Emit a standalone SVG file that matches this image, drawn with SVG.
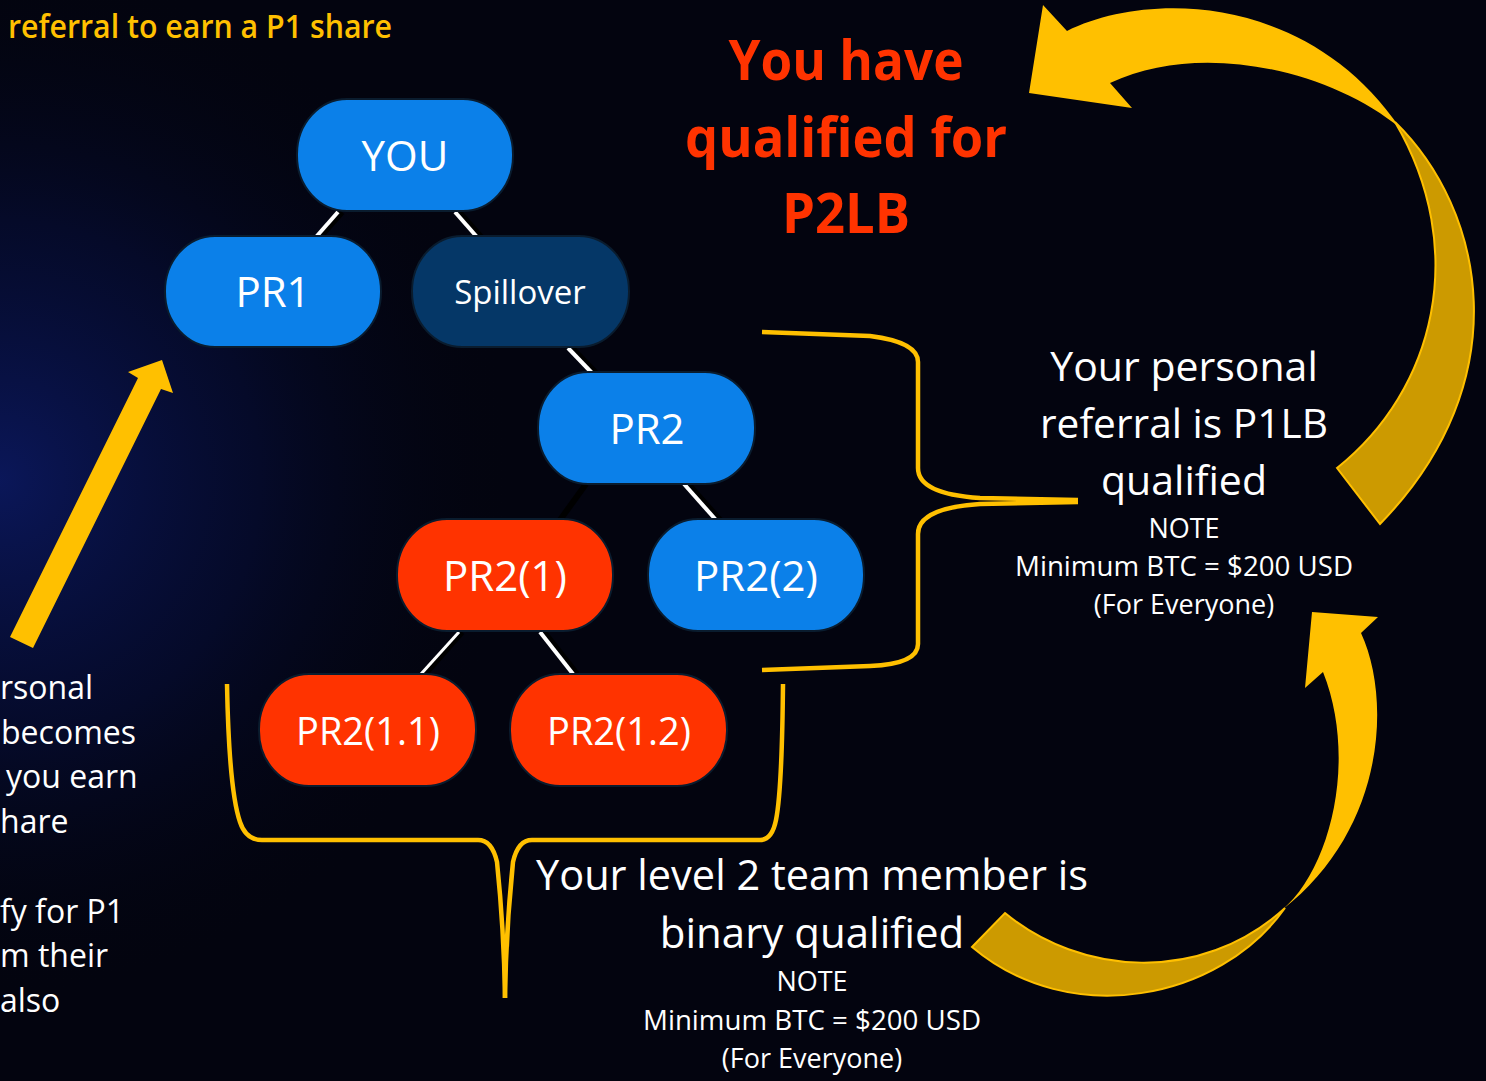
<svg xmlns="http://www.w3.org/2000/svg" width="1486" height="1081" viewBox="0 0 1486 1081">
<defs>
<radialGradient id="glow" cx="0" cy="480" r="520" gradientUnits="userSpaceOnUse">
<stop offset="0" stop-color="#0c1a66" stop-opacity="0.85"/>
<stop offset="0.5" stop-color="#081350" stop-opacity="0.4"/>
<stop offset="1" stop-color="#03040f" stop-opacity="0"/>
</radialGradient>
<style>
.node-blue{fill:#0b80e9;stroke:#0a1c2e;stroke-width:2}
.node-dark{fill:#053767;stroke:#0a1c2e;stroke-width:2}
.node-red{fill:#ff3300;stroke:#0a1c2e;stroke-width:2}
.nt{font-family:"Open Sans","Noto Sans",sans-serif;fill:#ffffff;text-anchor:middle}
.wt{font-family:"Open Sans","Noto Sans",sans-serif;fill:#ffffff}
.ct{font-family:"Open Sans","Noto Sans",sans-serif;fill:#ffffff;text-anchor:middle}
.shadow{stroke:#000000;stroke-width:6;stroke-linecap:butt}
.edge{stroke:#ffffff;stroke-width:4;stroke-linecap:butt}
.brace{fill:none;stroke:#ffc000;stroke-width:4.5;stroke-linejoin:round}
.gold{fill:#ffc000}
.goldd{fill:#cc9a00;stroke:#ffc000;stroke-width:2}
</style>
</defs>
<rect width="1486" height="1081" fill="#03040f"/>
<rect width="1486" height="1081" fill="url(#glow)"/>

<text x="8" y="38" font-family="'Open Sans','Noto Sans',sans-serif" font-weight="600" font-size="32" fill="#ffc000" textLength="384" lengthAdjust="spacingAndGlyphs">referral to earn a P1 share</text>

<g id="left-text" class="wt" font-size="32">
<text x="0" y="699">rsonal</text>
<text x="1" y="744">becomes</text>
<text x="6" y="788">you earn</text>
<text x="0" y="833">hare</text>
<text x="0" y="923">fy for P1</text>
<text x="0" y="967">m their</text>
<text x="0" y="1012">also</text>
</g>

<g id="connectors">
<line class="shadow" x1="342" y1="212" x2="320" y2="237"/>
<line class="edge" x1="338" y1="212" x2="316" y2="237"/>
<line class="shadow" x1="459" y1="212" x2="481" y2="237"/>
<line class="edge" x1="455" y1="212" x2="477" y2="237"/>
<line class="shadow" x1="572" y1="348" x2="596" y2="373"/>
<line class="edge" x1="568" y1="348" x2="592" y2="373"/>
<line class="shadow" x1="586" y1="484" x2="560" y2="520"/>
<line class="shadow" x1="688" y1="484" x2="720" y2="520"/>
<line class="edge" x1="684" y1="484" x2="716" y2="520"/>
<line class="shadow" x1="462" y1="632" x2="425" y2="674"/>
<line class="edge" x1="459" y1="632" x2="421" y2="674" style="stroke-width:3"/>
<line class="shadow" x1="544" y1="632" x2="577" y2="674"/>
<line class="edge" x1="540" y1="632" x2="573" y2="674"/>
</g>

<g id="node-you"><rect class="node-blue" x="297" y="99" width="216" height="112" rx="50" ry="55"/><text class="nt" x="405" y="171" font-size="42">YOU</text></g>
<g id="node-pr1"><rect class="node-blue" x="165" y="236" width="216" height="111" rx="50" ry="55"/><text class="nt" x="273" y="307" font-size="42">PR1</text></g>
<g id="node-spillover"><rect class="node-dark" x="412" y="236" width="217" height="111" rx="50" ry="55"/><text class="nt" x="520" y="304" font-size="33">Spillover</text></g>
<g id="node-pr2"><rect class="node-blue" x="538" y="372" width="217" height="112" rx="50" ry="55"/><text class="nt" x="647" y="444" font-size="42">PR2</text></g>
<g id="node-pr2-1"><rect class="node-red" x="397" y="519" width="216" height="112" rx="50" ry="55"/><text class="nt" x="505" y="591" font-size="42">PR2(1)</text></g>
<g id="node-pr2-2"><rect class="node-blue" x="648" y="519" width="216" height="112" rx="50" ry="55"/><text class="nt" x="756" y="591" font-size="42">PR2(2)</text></g>
<g id="node-pr2-1-1"><rect class="node-red" x="259" y="674" width="217" height="112" rx="50" ry="55"/><text class="nt" x="368" y="745" font-size="38">PR2(1.1)</text></g>
<g id="node-pr2-1-2"><rect class="node-red" x="510" y="674" width="217" height="112" rx="50" ry="55"/><text class="nt" x="619" y="745" font-size="38">PR2(1.2)</text></g>

<g id="braces">
<path class="brace" d="M762,332 L870,336 Q918,342 918,362 L918,468 Q918,494 980,498 L1078,500"/>
<path class="brace" d="M1078,502 L980,504 Q918,508 918,534 L918,644 Q918,664 870,666 L762,670"/>
<path class="brace" d="M227,684 Q229,790 240,822 Q246,840 262,840 L478,840 Q492,840 497,862 Q504,930 505,998"/>
<path class="brace" d="M505,998 Q506,930 513,862 Q518,840 532,840 L760,840 Q772,840 776,820 Q782,790 783,684"/>
</g>

<g id="arrows">
<polygon class="gold" points="10,637 138,378 128,372 162,360 173,393 161,389 33,648"/>
<path class="goldd" d="M1395,122 C1485,210 1520,380 1380,524 L1337,468 C1435,390 1470,250 1395,122 Z"/>
<path class="gold" d="M1029,93 L1043,5 L1067,31 C1150,-10 1310,-5 1400,128 C1330,70 1200,40 1110,83 L1132,108 Z"/>
<path class="goldd" d="M1005,913 C1080,975 1200,985 1285,908 C1220,1000 1070,1030 972,947 Z"/>
<path class="gold" d="M1312,612 L1378,617 L1361,633 C1392,700 1385,830 1282,910 C1330,870 1358,760 1323,672 L1305,688 Z"/>
</g>

<g id="title" font-family="'Open Sans','Noto Sans',sans-serif" font-weight="bold" font-size="56" fill="#ff3300" text-anchor="middle">
<text x="846" y="80" textLength="235" lengthAdjust="spacingAndGlyphs">You have</text>
<text x="846" y="157" textLength="322" lengthAdjust="spacingAndGlyphs">qualified for</text>
<text x="846" y="233" textLength="128" lengthAdjust="spacingAndGlyphs">P2LB</text>
</g>

<g id="p1lb-text">
<text class="ct" x="1184" y="381" font-size="41">Your personal</text>
<text class="ct" x="1184" y="438" font-size="41" textLength="288" lengthAdjust="spacingAndGlyphs">referral is P1LB</text>
<text class="ct" x="1184" y="495" font-size="41">qualified</text>
<text class="ct" x="1184" y="538" font-size="27">NOTE</text>
<text class="ct" x="1184" y="576" font-size="27" textLength="338" lengthAdjust="spacingAndGlyphs">Minimum BTC = $200 USD</text>
<text class="ct" x="1184" y="614" font-size="27">(For Everyone)</text>
</g>

<g id="binary-text">
<text class="ct" x="812" y="890" font-size="42" textLength="552" lengthAdjust="spacingAndGlyphs">Your level 2 team member is</text>
<text class="ct" x="812" y="948" font-size="42">binary qualified</text>
<text class="ct" x="812" y="991" font-size="27">NOTE</text>
<text class="ct" x="812" y="1030" font-size="27" textLength="338" lengthAdjust="spacingAndGlyphs">Minimum BTC = $200 USD</text>
<text class="ct" x="812" y="1068" font-size="27">(For Everyone)</text>
</g>
</svg>
